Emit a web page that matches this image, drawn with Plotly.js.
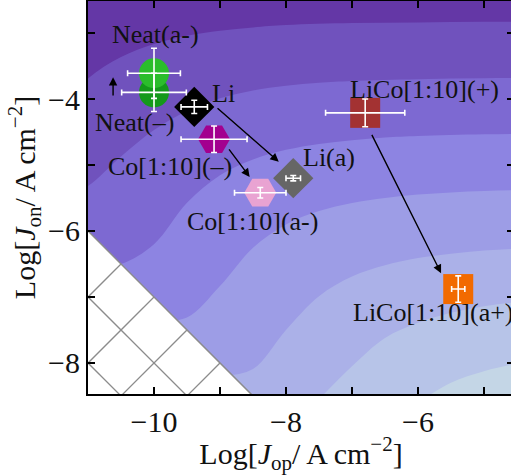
<!DOCTYPE html>
<html>
<head>
<meta charset="utf-8">
<script src="https://cdn.plot.ly/plotly-3.0.1.min.js"></script>
<style>
html,body{margin:0;padding:0;overflow:hidden;background:#fff;}
#chart{width:515px;height:475px;}
</style>
</head>
<body>
<div id="chart"></div>
<script>
// ---- sample data ----
const sampleNames = ['Neat(–)', 'Neat(a-)', 'Li', 'Co[1:10](–)', 'Co[1:10](a-)', 'Li(a)', 'LiCo[1:10](+)', 'LiCo[1:10](a+)'];
const logJop  = [-10.0, -10.0, -9.39, -9.09, -8.39, -7.89, -6.80, -5.39];
const logJon  = [-3.90, -3.61, -4.12, -4.61, -5.42, -5.20, -4.21, -6.88];
const errJop  = [0.49, 0.40, 0.20, 0.50, 0.39, 0.11, 0.60, 0.10];
const errJon  = [0.29, 0.38, 0.10, 0.20, 0.08, 0.04, 0.21, 0.20];
const markerSymbols = ['circle', 'circle', 'diamond', 'hexagon2', 'hexagon2', 'diamond', 'square', 'square'];
const markerColors  = ['#14991a', '#2bbd2b', '#000000', '#a3008f', '#e9a3d2', '#666666', '#a33232', '#f26a00'];
const markerSizes   = [30, 30, 31, 32, 32, 31, 30, 30];

// label positions (data coords)
const labelX = [-10.30, -9.98, -8.94, -9.76, -8.50, -7.35, -5.90, -5.77];
const labelY = [-4.36, -3.03, -3.91, -5.03, -5.85, -4.88, -3.85, -7.24];

// arrows: tail -> head
const arrowTailX = [-10.62, -9.06, -8.88, -6.71];
const arrowTailY = [-3.97, -4.12, -4.74, -4.52];
const arrowHeadX = [-10.62, -8.11, -8.55, -5.65];
const arrowHeadY = [-3.67, -4.95, -5.18, -6.64];

// background contour boundaries, top to bottom
const contourAx = [-11.5, -11, -10.5, -10, -9.5, -9, -8.5, -8, -7, -6, -5, -4];
const contourAy = [-4.25, -3.69, -3.365, -3.165, -3.04, -2.965, -2.915, -2.88, -2.85, -2.84, -2.83, -2.83];
const contourBx = [-11.5, -11, -10.5, -10, -9.5, -9, -8.5, -8, -7.5, -7, -6, -5, -4];
const contourBy = [-5.6, -5.32, -4.87, -4.47, -4.18, -3.99, -3.87, -3.80, -3.753, -3.726, -3.70, -3.687, -3.68];
const contourCx = [-11, -10.5, -10, -9.5, -9, -8.5, -8, -7.5, -7, -6.5, -6, -5, -4];
const contourCy = [-6.55, -6.5, -6.2, -5.573, -5.155, -4.915, -4.77, -4.68, -4.624, -4.583, -4.56, -4.535, -4.525];
const contourDx = [-10, -9.5, -9, -8.5, -8, -7.5, -7, -6.5, -6, -5.5, -5, -4.5, -4];
const contourDy = [-7.36, -7.31, -6.835, -6.254, -5.90, -5.697, -5.575, -5.50, -5.446, -5.415, -5.394, -5.38, -5.37];
const contourEx = [-9, -8.5, -8, -7.5, -7, -6.5, -6, -5.5, -5, -4.5, -4];
const contourEy = [-8.2, -8.09, -7.50, -6.988, -6.69, -6.52, -6.41, -6.343, -6.296, -6.268, -6.25];
const contourFx = [-7.5, -7, -6.5, -6, -5.5, -5, -4.5, -4];
const contourFy = [-8.55, -8.05, -7.62, -7.39, -7.24, -7.14, -7.08, -7.04];
const contourGx = [-6, -5.5, -5, -4.5, -4];
const contourGy = [-8.6, -8.30, -8.124, -8.01, -7.93];
const bandColors = ['#6437a6', '#7052bd', '#7d69d2', '#8d84e2', '#9d9de6', '#abb1e8', '#b7c4e8', '#c4d6e6'];

// forbidden region: Log Jop + Log Jon <= -17
const forbiddenSum = -17;
const hatchSums  = [-18, -19, -20];
const hatchDiffs = [1, 2, 3, 4, 5];

// ticks
const xTickVals = [-11, -10, -9, -8, -7, -6, -5];
const xTickText = ['', '−10', '', '−8', '', '−6', ''];
const yTickVals = [-9, -8, -7, -6, -5, -4, -3];
const yTickText = ['', '−8', '', '−6', '', '−4', ''];

// ---- build traces ----
const traces = [];
const cxs = [contourAx, contourBx, contourCx, contourDx, contourEx, contourFx, contourGx];
const cys = [contourAy, contourBy, contourCy, contourDy, contourEy, contourFy, contourGy];
for (let k = 0; k < cxs.length; k++) {
  const xs = cxs[k].slice(), ys = cys[k].slice();
  const yR = ys[ys.length - 1], yL = ys[0];
  xs.push(-3.5, -3.5, -12, -12);
  ys.push(yR, -10, -10, yL);
  traces.push({
    x: xs, y: ys, mode: 'lines', fill: 'toself',
    fillcolor: bandColors[k + 1],
    line: {width: 0, shape: 'spline', smoothing: 1, color: bandColors[k + 1]},
    hoverinfo: 'skip', showlegend: false
  });
}
// white forbidden triangle
const xa = -11.5, xb = forbiddenSum + 9;
traces.push({
  x: [xa, xb, xa], y: [forbiddenSum - xa, -9, -9], mode: 'lines', fill: 'toself',
  fillcolor: '#ffffff', line: {width: 0}, hoverinfo: 'skip', showlegend: false
});
// hatch lines
const hx = [], hy = [];
hatchSums.forEach(s => { hx.push(-12, s + 9, null); hy.push(s + 12, -9, null); });
hatchDiffs.forEach(d => { hx.push((forbiddenSum - d) / 2, -12, null); hy.push((forbiddenSum + d) / 2, d - 12, null); });
traces.push({x: hx, y: hy, mode: 'lines', line: {color: '#8c8c8c', width: 1.3},
  hoverinfo: 'skip', showlegend: false, connectgaps: false});
traces.push({x: [xa, xb], y: [forbiddenSum - xa, forbiddenSum - xb], mode: 'lines',
  line: {color: '#8c8c8c', width: 1.5}, hoverinfo: 'skip', showlegend: false});

// markers
traces.push({
  x: logJop, y: logJon, mode: 'markers', text: sampleNames,
  marker: {symbol: markerSymbols, color: markerColors, size: markerSizes, line: {width: 0}, opacity: 1},
  showlegend: false, cliponaxis: false
});
// error bars on top
traces.push({
  x: logJop, y: logJon, mode: 'markers',
  marker: {size: 1, color: 'rgba(0,0,0,0)'},
  error_x: {type: 'data', array: errJop, color: '#ffffff', thickness: 1.6, width: 3},
  error_y: {type: 'data', array: errJon, color: '#ffffff', thickness: 1.6, width: 3},
  showlegend: false, hoverinfo: 'skip'
});

const fontFam = 'Liberation Serif, Times New Roman, serif';
const annotations = [];
for (let i = 0; i < sampleNames.length; i++) {
  annotations.push({x: labelX[i], y: labelY[i], xref: 'x', yref: 'y', text: sampleNames[i],
    showarrow: false, font: {family: fontFam, size: 26, color: '#111'}});
}
for (let i = 0; i < arrowHeadX.length; i++) {
  annotations.push({x: arrowHeadX[i], y: arrowHeadY[i], ax: arrowTailX[i], ay: arrowTailY[i],
    xref: 'x', yref: 'y', axref: 'x', ayref: 'y', text: '', showarrow: true,
    arrowhead: 2, arrowsize: 1.2, arrowwidth: 1.4, arrowcolor: '#000', standoff: 0, startstandoff: 0});
}

const axisCommon = {
  showline: true, linecolor: '#000', linewidth: 2, mirror: 'ticks',
  ticks: 'inside', ticklen: 7, tickwidth: 1.5, tickcolor: '#000',
  showgrid: false, zeroline: false, tickmode: 'array',
  tickfont: {family: fontFam, size: 30, color: '#111'}
};
const layout = {
  width: 515, height: 475,
  margin: {l: 88, r: 1, t: 1, b: 81},
  paper_bgcolor: '#ffffff', plot_bgcolor: bandColors[0],
  xaxis: Object.assign({}, axisCommon, {
    range: [-11, -4.545], tickvals: xTickVals, ticktext: xTickText,
    title: {text: 'Log[<i>J</i><sub>op</sub>/ A cm<sup>−2</sup>]', font: {family: fontFam, size: 30, color: '#111'}, standoff: 6}
  }),
  yaxis: Object.assign({}, axisCommon, {
    range: [-8.47, -2.515], tickvals: yTickVals, ticktext: yTickText,
    title: {text: 'Log[<i>J</i><sub>on</sub>/ A cm<sup>−2</sup>]', font: {family: fontFam, size: 30, color: '#111'}, standoff: 4}
  }),
  annotations: annotations,
  showlegend: false
};
Plotly.newPlot('chart', traces, layout, {staticPlot: true, displayModeBar: false});
</script>
</body>
</html>
